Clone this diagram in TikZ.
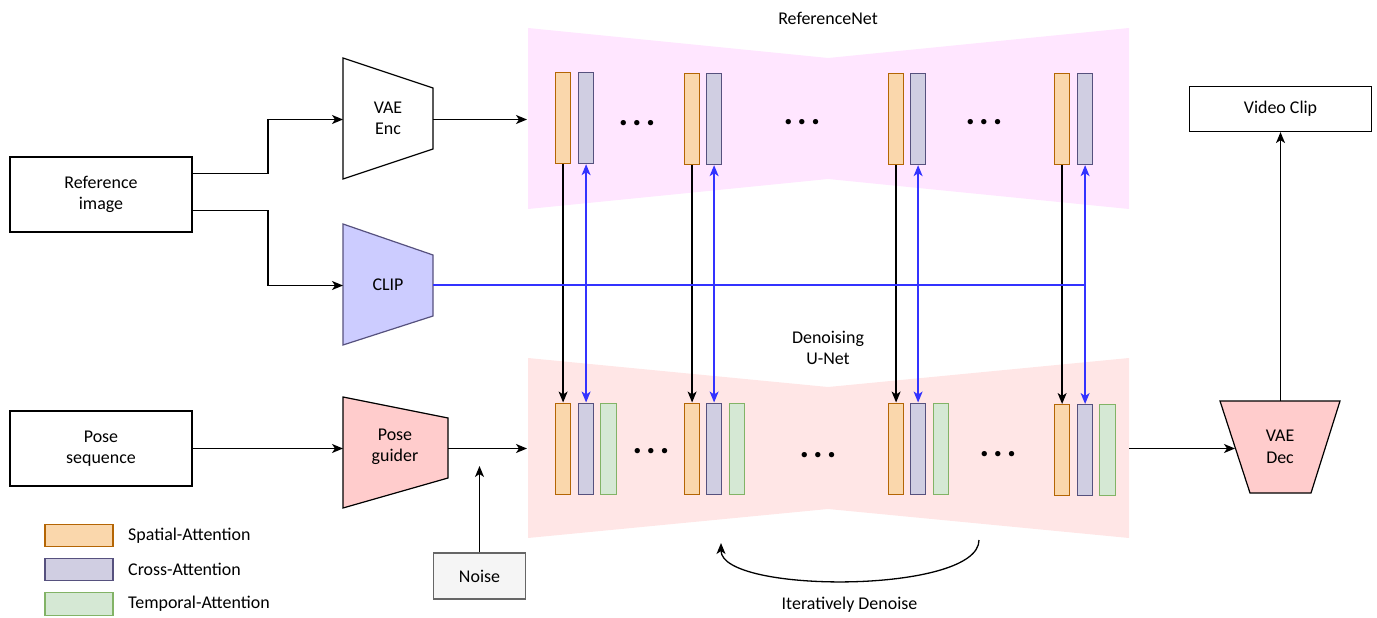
\documentclass[tikz,border=0pt]{standalone}
\usepackage{fontspec}
\setmainfont{Carlito}
\usetikzlibrary{arrows.meta}
\definecolor{spF}{HTML}{FAD7AC}\definecolor{spS}{HTML}{B46504}
\definecolor{crF}{HTML}{D0CEE2}\definecolor{crS}{HTML}{56517E}
\definecolor{tpF}{HTML}{D5E8D4}\definecolor{tpS}{HTML}{82B366}
\definecolor{refF}{HTML}{FFE6FF}\definecolor{unF}{HTML}{FFE6E6}
\definecolor{clipF}{HTML}{CCCCFF}\definecolor{redF}{HTML}{FFCCCC}
\definecolor{noiseF}{HTML}{F5F5F5}\definecolor{noiseS}{HTML}{666666}
\definecolor{bluline}{HTML}{3333FF}\definecolor{dk}{HTML}{000000}
\begin{document}
\begin{tikzpicture}[x=1bp,y=-1bp,
  txt/.style={font=\fontsize{18}{21.5}\selectfont, align=center, inner sep=0pt},
  box/.style={txt, draw=dk, fill=white, line width=1.2bp},
  bar/.style={minimum width=15.5bp, minimum height=91bp, anchor=north west, inner sep=0pt, line width=1.2bp},
  sp/.style={bar, draw=spS, fill=spF},
  cr/.style={bar, draw=crS, fill=crF},
  tp/.style={bar, draw=tpS, fill=tpF},
  leg/.style={minimum width=68bp, minimum height=22.5bp, inner sep=0pt, line width=1.2bp},
  arr/.style={draw=dk, line width=1.3bp, -{Stealth[length=11bp,width=9bp,inset=3bp]}},
  barr/.style={draw=bluline, line width=1.3bp, {Stealth[length=11bp,width=9bp,inset=3bp]}-{Stealth[length=11bp,width=9bp,inset=3bp]}},
  bline/.style={draw=bluline, line width=1.7bp},
  dotsn/.style={font=\fontsize{36}{36}\selectfont\bfseries, inner sep=0pt, anchor=base},
  trap/.style={line width=1.2bp}
]
\useasboundingbox (0,0) rectangle (1377,618);

% network backgrounds
\fill[refF] (528,28) -- (828,58) -- (1129,28) -- (1129,209) -- (828,179) -- (528,209) -- cycle;
\fill[unF] (528,358) -- (828,387) -- (1129,358) -- (1129,538) -- (828,509) -- (528,538) -- cycle;
\node[txt] (refnet) at (828,18) {ReferenceNet};
\node[txt] (unetlbl) at (828,348) {Denoising\\U-Net};

% left boxes
\node[box, minimum width=182bp, minimum height=75bp] (refimg) at (101,194.5) {Reference\\image};
\node[box, minimum width=182bp, minimum height=75bp] (poseseq) at (101,448.5) {Pose\\sequence};
\node[box, fill=noiseF, draw=noiseS, minimum width=92bp, minimum height=46bp] (noise) at (479.5,576) {Noise};
\node[box, minimum width=182bp, minimum height=45bp] (video) at (1280.5,109) {Video Clip};

% trapezoids
\draw[trap, draw=dk, fill=white] (343,58) -- (433,88) -- (433,149) -- (343,179) -- cycle;
\node[txt] (vaeenc) at (388,118.5) {VAE\\Enc};
\draw[trap, draw=crS, fill=clipF] (343,224) -- (433,255) -- (433,316) -- (343,345) -- cycle;
\node[txt] (clip) at (388,285) {CLIP};
\draw[trap, draw=dk, fill=redF] (343,397) -- (448,418) -- (448,478) -- (343,508) -- cycle;
\node[txt] (pg) at (395,447) {Pose\\guider};
\draw[trap, draw=dk, fill=redF] (1220,401) -- (1340,401) -- (1311,493) -- (1250,493) -- cycle;
\node[txt] (vaedec) at (1280,447) {VAE\\Dec};

\coordinate (vaeL) at (343,119.5);
\coordinate (vaeR) at (433,119.5);
\coordinate (refIn) at (527,119.5);
\coordinate (clipL) at (343,285.5);
\coordinate (clipR) at (433,285);
\coordinate (pgL) at (343,448.5);
\coordinate (pgR) at (448,448.5);
\coordinate (unIn) at (527,448.5);
\coordinate (noiseT) at (479.5,466);
\coordinate (unOut) at (1129,448.5);
\coordinate (vdL) at (1235,448.5);
\coordinate (vdT) at (1280.5,401);
\coordinate (itA) at (979,540);
\coordinate (itB) at (721,543);

% ReferenceNet bars
\node[sp] (r1s) at (554.75,72) {};   \node[cr] (r1c) at (577.75,72) {};
\node[sp] (r2s) at (683.75,73) {};   \node[cr] (r2c) at (705.75,73) {};
\node[sp] (r3s) at (887.75,73) {};   \node[cr] (r3c) at (909.75,73) {};
\node[sp] (r4s) at (1053.75,73) {};  \node[cr] (r4c) at (1076.75,73) {};
% U-Net bars
\node[sp] (u1s) at (554.75,402.5) {}; \node[cr] (u1c) at (577.75,402.5) {}; \node[tp] (u1t) at (600,402.5) {};
\node[sp] (u2s) at (683.75,402.5) {}; \node[cr] (u2c) at (705.75,402.5) {}; \node[tp] (u2t) at (728.5,402.5) {};
\node[sp] (u3s) at (887.75,402.5) {}; \node[cr] (u3c) at (909.75,402.5) {}; \node[tp] (u3t) at (932.5,402.5) {};
\node[sp] (u4s) at (1053.75,404) {};  \node[cr] (u4c) at (1076.75,404) {}; \node[tp] (u4t) at (1099,404) {};

% dots
\node[dotsn] (d1) at (637,126) {.\kern4bp.\kern4bp.};
\node[dotsn] (d2) at (802,125) {.\kern4bp.\kern4bp.};
\node[dotsn] (d3) at (984,125) {.\kern4bp.\kern4bp.};
\node[dotsn] (d4) at (651,453) {.\kern4bp.\kern4bp.};
\node[dotsn] (d5) at (818,457) {.\kern4bp.\kern4bp.};
\node[dotsn] (d6) at (998,456) {.\kern4bp.\kern4bp.};

% connectors
\draw[arr] ([yshift=21bp]refimg.east) -- ++(75.5,0) |- (vaeL);
\draw[arr] ([yshift=-16bp]refimg.east) -- ++(75.5,0) |- (clipL);
\draw[arr] (vaeR) -- (refIn);
\draw[arr] (poseseq.east) -- (pgL);
\draw[arr] (pgR) -- (unIn);
\draw[arr] (noise.north) -- (noiseT);
\draw[arr] (unOut) -- (vdL);
\draw[arr] (vdT) -- (video.south);

\draw[arr] (r1s.south) -- (u1s.north);
\draw[arr] (r2s.south) -- (u2s.north);
\draw[arr] (r3s.south) -- (u3s.north);
\draw[arr] (r4s.south) -- (u4s.north);
\draw[barr] (r1c.south) -- (u1c.north);
\draw[barr] (r2c.south) -- (u2c.north);
\draw[barr] (r3c.south) -- (u3c.north);
\draw[barr] (r4c.south) -- (u4c.north);
\draw[bline] (clipR) -- (clipR -| r4c.south);

\draw[arr] (itA) .. controls (979,594) and (721,594) .. (itB);
\node[txt] (itlbl) at (849.5,605) {Iteratively Denoise};

% legend
\node[leg, draw=spS, fill=spF] (lg1) at (79,535.5) {};
\node[leg, draw=crS, fill=crF] (lg2) at (79,569.5) {};
\node[leg, draw=tpS, fill=tpF] (lg3) at (79,604) {};
\node[txt, anchor=west] (lt1) at (128,535.5) {Spatial-Attention};
\node[txt, anchor=west] (lt2) at (128,569.5) {Cross-Attention};
\node[txt, anchor=west] (lt3) at (128,604) {Temporal-Attention};
\end{tikzpicture}
\end{document}
